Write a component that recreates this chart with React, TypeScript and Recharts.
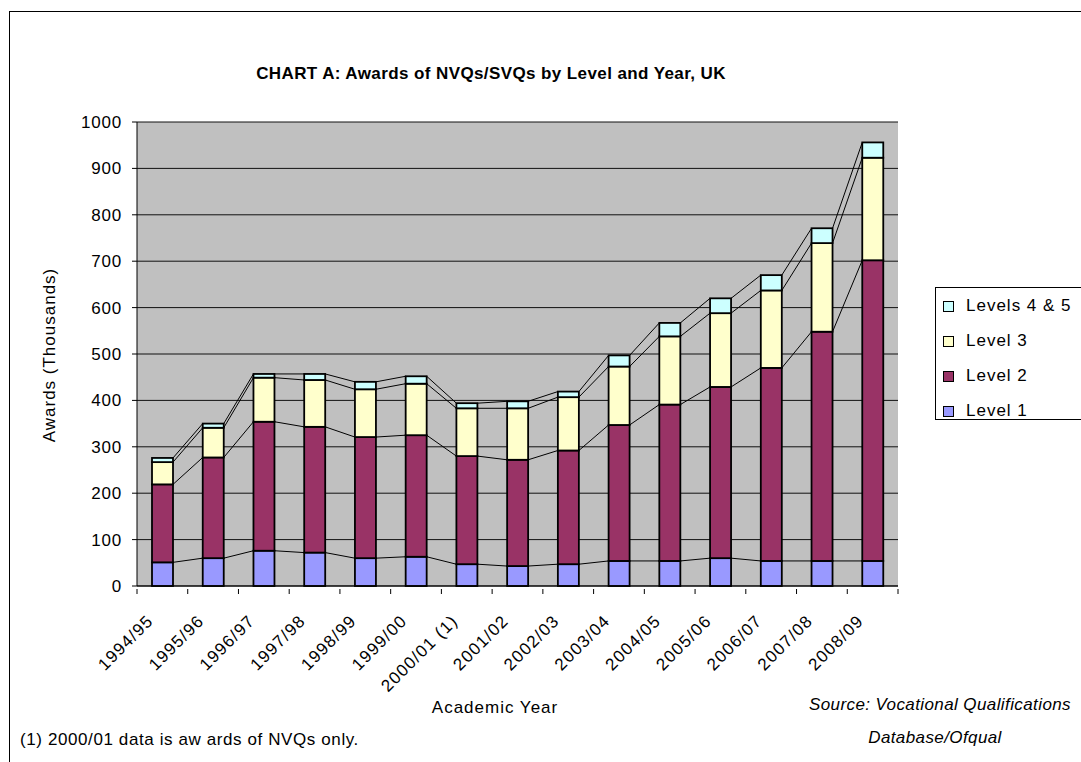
import React from 'react';
import { BarChart, Bar, XAxis, YAxis, CartesianGrid } from 'recharts';

const years = [
  '1994/95', '1995/96', '1996/97', '1997/98', '1998/99', '1999/00', '2000/01 (1)',
  '2001/02', '2002/03', '2003/04', '2004/05', '2005/06', '2006/07', '2007/08', '2008/09',
];
const level1 = [51, 60, 76, 72, 60, 63, 47, 43, 47, 54, 54, 60, 54, 54, 54];
const level2 = [168, 217, 278, 271, 261, 262, 233, 229, 245, 293, 337, 369, 416, 494, 648];
const level3 = [48, 64, 95, 101, 103, 111, 103, 111, 115, 126, 147, 159, 167, 191, 221];
const level45 = [9, 9, 8, 13, 16, 16, 11, 15, 12, 24, 29, 32, 33, 32, 33];
const yTicks = [0, 100, 200, 300, 400, 500, 600, 700, 800, 900, 1000];

const series = [
  { key: 'l1', name: 'Level 1', values: level1, color: '#9999FF' },
  { key: 'l2', name: 'Level 2', values: level2, color: '#993366' },
  { key: 'l3', name: 'Level 3', values: level3, color: '#FFFFCC' },
  { key: 'l45', name: 'Levels 4 & 5', values: level45, color: '#CCFFFF' },
];

const data = years.map((year, i) => {
  const row: any = { year, pos: i + 0.5 };
  series.forEach((s) => (row[s.key] = s.values[i]));
  return row;
});

// running totals, used for the series lines between bars
const cumulative = series.map((_, k) =>
  years.map((__, i) => series.slice(0, k + 1).reduce((sum, s) => sum + s.values[i], 0))
);

const W = 1081;
const H = 762;
const margin = { top: 122, right: 183, bottom: 174, left: 77 };
const yAxisWidth = 60;
const plotWidth = W - margin.left - yAxisWidth - margin.right;
const step = plotWidth / years.length;
const FONT = '"Liberation Sans", Arial, sans-serif';

const makeShape = (k: number) => (props: any) => {
  const { x, y, width, height, index, fill } = props;
  const seg = series[k].values[index];
  const ppu = height / seg;
  const low = k > 0 ? cumulative[k - 1][index] : 0;
  const zeroY = y + height + low * ppu;
  const next = cumulative[k][index + 1];
  return (
    <g>
      <rect x={x} y={y} width={width} height={height} fill={fill} stroke="#000" strokeWidth={1.8} />
      {next !== undefined && (
        <line
          x1={x + width}
          y1={y}
          x2={x + step}
          y2={zeroY - next * ppu}
          stroke="#000"
          strokeWidth={1}
        />
      )}
    </g>
  );
};

const YearTick = (props: any) => {
  const { x, y, payload } = props;
  const px = x - 8;
  const py = y + 36;
  return (
    <text
      x={px}
      y={py}
      transform={`rotate(-45 ${px} ${py})`}
      textAnchor="end"
      fontSize={17}
      letterSpacing={1.2}
      fontFamily={FONT}
      fill="#000"
    >
      {payload.value}
    </text>
  );
};

const EdgeTick = (props: any) => {
  const { x, y } = props;
  return <line x1={x} y1={y} x2={x} y2={y + 5} stroke="#000" strokeWidth={1} />;
};

const legendOrder = [...series].reverse();

export default function App() {
  return (
    <div
      style={{
        position: 'absolute',
        left: 0,
        top: 0,
        width: W,
        height: H,
        overflow: 'hidden',
        background: '#fff',
        fontFamily: FONT,
        color: '#000',
      }}
    >
      <div
        style={{
          position: 'absolute',
          left: 9,
          top: 11,
          width: 1200,
          height: 900,
          borderLeft: '1.5px solid #000',
          borderTop: '1.5px solid #000',
        }}
      />
      <div
        style={{
          position: 'absolute',
          left: 0,
          width: 982,
          top: 64,
          textAlign: 'center',
          fontWeight: 'bold',
          fontSize: 17,
          letterSpacing: 0.4,
        }}
      >
        CHART A: Awards of NVQs/SVQs by Level and Year, UK
      </div>

      <BarChart width={W} height={H} data={data} margin={margin} barSize={21}>
        <CartesianGrid
          vertical={false}
          stroke="#111"
          fill="#C0C0C0"
          fillOpacity={1}
          yAxisId="v"
          xAxisId="cat"
        />
        <XAxis
          xAxisId="cat"
          dataKey="year"
          interval={0}
          height={1}
          tickLine={false}
          tickSize={0}
          tickMargin={0}
          axisLine={{ stroke: '#000' }}
          tick={YearTick}
        />
        <XAxis
          xAxisId="edges"
          type="number"
          dataKey="pos"
          domain={[0, years.length]}
          ticks={years.map((_, i) => i).concat(years.length)}
          interval={0}
          height={1}
          axisLine={false}
          tickLine={false}
          tickSize={0}
          tick={EdgeTick}
        />
        <XAxis xAxisId="top" orientation="top" dataKey="year" height={0} tick={false} tickLine={false} axisLine={{ stroke: '#808080' }} />
        <YAxis
          yAxisId="v"
          domain={[0, 1000]}
          ticks={yTicks}
          width={yAxisWidth}
          axisLine={{ stroke: '#000' }}
          tickLine={{ stroke: '#000' }}
          tickSize={5}
          tickMargin={10}
          tick={{ fill: '#000', fontSize: 17, fontFamily: FONT, letterSpacing: 0.8 }}
        />
        <YAxis yAxisId="r" orientation="right" width={0} tick={false} tickLine={false} axisLine={{ stroke: '#808080' }} />
        {series.map((s, k) => (
          <Bar
            key={s.key}
            dataKey={s.key}
            name={s.name}
            stackId="a"
            xAxisId="cat"
            yAxisId="v"
            fill={s.color}
            shape={makeShape(k)}
            isAnimationActive={false}
          />
        ))}
      </BarChart>

      <div
        style={{
          position: 'absolute',
          left: 50,
          top: 355,
          transform: 'translate(-50%, -50%) rotate(-90deg)',
          whiteSpace: 'nowrap',
          fontSize: 17,
          letterSpacing: 1,
        }}
      >
        Awards (Thousands)
      </div>

      <div
        style={{
          position: 'absolute',
          left: 935,
          top: 287,
          width: 200,
          height: 131,
          border: '1px solid #000',
        }}
      >
        {legendOrder.map((s, i) => (
          <div
            key={s.key}
            style={{ position: 'absolute', left: 7, top: 8 + i * 35, display: 'flex', alignItems: 'center', fontSize: 17, letterSpacing: 1 }}
          >
            <span style={{ width: 9, height: 9, background: s.color, border: '1px solid #000', marginRight: 12 }} />
            {s.name}
          </div>
        ))}
      </div>

      <div style={{ position: 'absolute', left: 0, width: 990, top: 698, textAlign: 'center', fontSize: 17, letterSpacing: 1 }}>
        Academic Year
      </div>
      <div style={{ position: 'absolute', left: 20, top: 730, fontSize: 17, letterSpacing: 0.6 }}>
        (1) 2000/01 data is aw ards of NVQs only.
      </div>
      <div style={{ position: 'absolute', left: 790, width: 300, top: 695, textAlign: 'center', fontSize: 17, fontStyle: 'italic', letterSpacing: 0.4, whiteSpace: 'nowrap' }}>
        Source: Vocational Qualifications
      </div>
      <div style={{ position: 'absolute', left: 790, width: 290, top: 728, textAlign: 'center', fontSize: 17, fontStyle: 'italic', letterSpacing: 0.4 }}>
        Database/Ofqual
      </div>
    </div>
  );
}
